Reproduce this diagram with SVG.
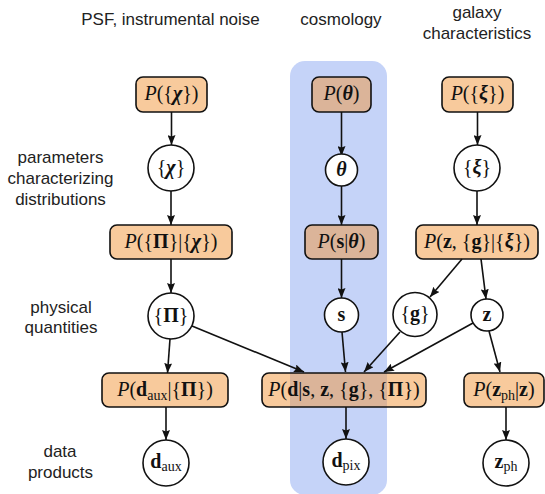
<svg xmlns="http://www.w3.org/2000/svg" width="545" height="494" viewBox="0 0 545 494">
<defs>
<marker id="ah" markerUnits="userSpaceOnUse" markerWidth="11" markerHeight="8" refX="10" refY="4" orient="auto">
<path d="M0,0 L10,4 L0,8 L1.5,4 Z" fill="#111"/>
</marker>
<style>
.box{fill:#f2953a;fill-opacity:0.5;stroke:#111;stroke-width:1.6}
.circ{fill:#fff;stroke:#111;stroke-width:1.6}
.m{font-family:"Liberation Serif","DejaVu Serif",serif;font-size:20px;text-anchor:middle;fill:#111}
.i{font-style:italic}
.b{font-weight:bold}
.bi{font-weight:bold;font-style:italic}
.sub{font-size:14px}
.lab{font-family:"Liberation Sans",Arial,sans-serif;font-size:17px;text-anchor:middle;fill:#222}
.edges line{stroke:#111;stroke-width:1.6;marker-end:url(#ah)}
</style>
</defs>
<rect id="band" x="290" y="61" width="97" height="434" rx="15" fill="#c5d3f8"/>
<g id="labels">
<text class="lab" x="170.5" y="25">PSF, instrumental noise</text>
<text class="lab" x="341" y="25">cosmology</text>
<text class="lab" x="477" y="18">galaxy</text>
<text class="lab" x="477" y="38.5">characteristics</text>
<text class="lab" x="60.5" y="163">parameters</text>
<text class="lab" x="60.5" y="184">characterizing</text>
<text class="lab" x="60.5" y="204.5">distributions</text>
<text class="lab" x="61" y="312.5">physical</text>
<text class="lab" x="61" y="333">quantities</text>
<text class="lab" x="60" y="457">data</text>
<text class="lab" x="60.5" y="477.5">products</text>
</g>
<g class="edges" id="connectors">
<line x1="171.5" y1="112" x2="171.5" y2="145"/>
<line x1="171" y1="191" x2="171" y2="225"/>
<line x1="341.5" y1="112" x2="341.5" y2="156"/>
<line x1="341.5" y1="184" x2="341.5" y2="225"/>
<line x1="477.5" y1="112" x2="477.5" y2="145"/>
<line x1="477" y1="191" x2="477" y2="225"/>
<line x1="171" y1="259" x2="171" y2="293"/>
<line x1="341.5" y1="259" x2="341.5" y2="298"/>
<line x1="462" y1="259" x2="430" y2="297"/>
<line x1="481" y1="259" x2="486" y2="299"/>
<line x1="192" y1="326" x2="304" y2="372"/>
<line x1="170" y1="339" x2="167.5" y2="373"/>
<line x1="342" y1="332" x2="345.5" y2="372"/>
<line x1="400" y1="332" x2="364" y2="372"/>
<line x1="473" y1="323" x2="384" y2="372"/>
<line x1="489" y1="331" x2="500" y2="372"/>
<line x1="166" y1="407" x2="166" y2="440"/>
<line x1="346" y1="407" x2="346" y2="439"/>
<line x1="506" y1="407" x2="506" y2="440"/>
</g>
<g id="n_Pchi"><rect class="box" x="136" y="77" width="71" height="35" rx="7"/><text class="m" x="171.5" y="100"><tspan class="i">P</tspan>({<tspan class="bi">χ</tspan>})</text></g>
<g id="n_Ptheta"><rect class="box" x="312" y="77" width="59" height="35" rx="7"/><text class="m" x="341.5" y="100"><tspan class="i">P</tspan>(<tspan class="bi">θ</tspan>)</text></g>
<g id="n_Pxi"><rect class="box" x="442" y="77" width="71" height="35" rx="7"/><text class="m" x="477.5" y="100"><tspan class="i">P</tspan>({<tspan class="bi">ξ</tspan>})</text></g>
<g id="n_chi"><circle class="circ" cx="171" cy="168" r="23"/><text class="m" x="171" y="173.5">{<tspan class="bi">χ</tspan>}</text></g>
<g id="n_theta"><circle class="circ" cx="341.5" cy="170" r="16"/><text class="m" x="341.5" y="175.5"><tspan class="bi">θ</tspan></text></g>
<g id="n_xi"><circle class="circ" cx="477" cy="168" r="23"/><text class="m" x="477" y="173.5">{<tspan class="bi">ξ</tspan>}</text></g>
<g id="n_PPi"><rect class="box" x="110" y="225" width="122" height="34" rx="7"/><text class="m" x="171" y="248"><tspan class="i">P</tspan>({<tspan class="b">Π</tspan>}|{<tspan class="bi">χ</tspan>})</text></g>
<g id="n_Ps"><rect class="box" x="305" y="225" width="73" height="34" rx="7"/><text class="m" x="341.5" y="248"><tspan class="i">P</tspan>(<tspan class="b">s</tspan>|<tspan class="bi">θ</tspan>)</text></g>
<g id="n_Pzg"><rect class="box" x="416" y="225" width="122" height="34" rx="7"/><text class="m" x="477" y="248"><tspan class="i">P</tspan>(<tspan class="b">z</tspan>, {<tspan class="b">g</tspan>}|{<tspan class="bi">ξ</tspan>})</text></g>
<g id="n_Pi"><circle class="circ" cx="171" cy="316" r="23"/><text class="m" x="171" y="321.5">{<tspan class="b">Π</tspan>}</text></g>
<g id="n_s"><circle class="circ" cx="341.5" cy="315" r="17"/><text class="m" x="341.5" y="320.5"><tspan class="b">s</tspan></text></g>
<g id="n_g"><circle class="circ" cx="415" cy="314.5" r="22"/><text class="m" x="415" y="320">{<tspan class="b">g</tspan>}</text></g>
<g id="n_z"><circle class="circ" cx="487" cy="315" r="16"/><text class="m" x="487" y="320.5"><tspan class="b">z</tspan></text></g>
<g id="n_Pdaux"><rect class="box" x="102" y="373" width="126" height="34" rx="7"/><text class="m" x="165" y="396"><tspan class="i">P</tspan>(<tspan class="b">d</tspan><tspan class="sub" dy="4">aux</tspan><tspan dy="-4">|{</tspan><tspan class="b">Π</tspan>})</text></g>
<g id="n_Pd"><rect class="box" x="262" y="373" width="164" height="34" rx="7"/><text class="m" x="344" y="396"><tspan class="i">P</tspan>(<tspan class="b">d</tspan>|<tspan class="b">s</tspan>, <tspan class="b">z</tspan>, {<tspan class="b">g</tspan>}, {<tspan class="b">Π</tspan>})</text></g>
<g id="n_Pzph"><rect class="box" x="464" y="373" width="80" height="34" rx="7"/><text class="m" x="504" y="396"><tspan class="i">P</tspan>(<tspan class="b">z</tspan><tspan class="sub" dy="4">ph</tspan><tspan dy="-4">|</tspan><tspan class="b">z</tspan>)</text></g>
<g id="n_daux"><circle class="circ" cx="166" cy="463" r="23"/><text class="m" x="166" y="468"><tspan class="b">d</tspan><tspan class="sub" dy="3">aux</tspan></text></g>
<g id="n_dpix"><circle class="circ" cx="346" cy="462" r="23"/><text class="m" x="346" y="467"><tspan class="b">d</tspan><tspan class="sub" dy="3">pix</tspan></text></g>
<g id="n_zph"><circle class="circ" cx="506" cy="463" r="23"/><text class="m" x="506" y="468"><tspan class="b">z</tspan><tspan class="sub" dy="3">ph</tspan></text></g>
</svg>
